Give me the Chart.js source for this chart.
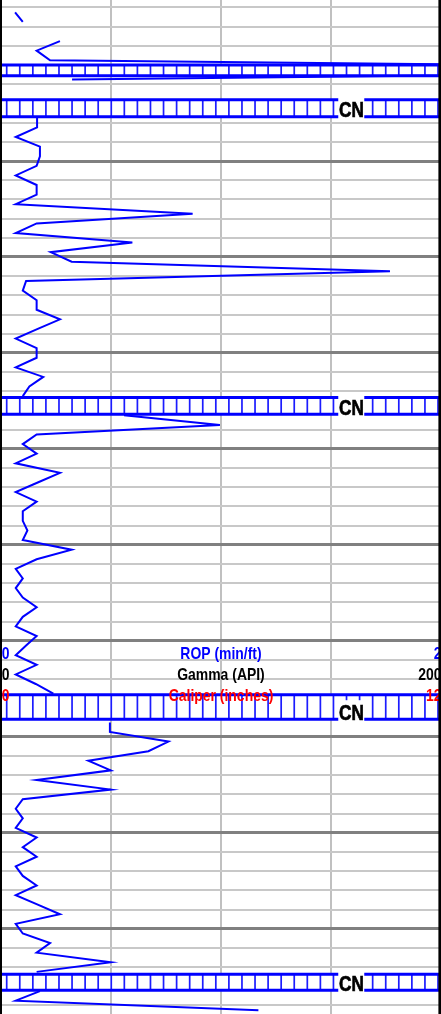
<!DOCTYPE html>
<html><head><meta charset="utf-8">
<script src="https://cdn.jsdelivr.net/npm/chart.js@4.4.0/dist/chart.umd.min.js"></script>
<style>html,body{margin:0;padding:0;background:#fff;overflow:hidden}canvas{display:block}</style>
</head><body>
<canvas id="c" width="441" height="1014"></canvas>
<script>
// Depth (ft) of each ROP sample
const depths = [
 4993.5,4994.5,4995.5,4996.5,4997.5,4998.5,4999.5,5000.5,5001.5,5002.5,
 5003.5,5004.5,5005.5,5006.5,5007.5,5008.5,5009.5,5010.5,5011.5,5012.5,
 5013.5,5014.5,5015.5,5016.5,5017.5,5018.5,5019.5,5020.5,5021.5,5022.5,
 5023.5,5024.5,5025.5,5026.5,5027.5,5028.5,5029.5,5030.5,5031.5,5032.5,
 5033.5,5034.5,5035.5,5036.5,5037.5,5038.5,5039.5,5040.5,5041.5,5042.5,
 5043.5,5044.5,5045.5,5046.5,5047.5,5048.5,5049.5,5050.5,5051.5,5052.5,
 5053.5,5054.5,5055.5,5056.5,5057.5,5058.5,5059.5,5060.5,5061.5,5062.5,
 5063.5,5064.5,5065.5,5066.5,5067.5,5068.5,5069.5,5070.5,5071.5,5072.5,
 5073.5,5074.5,5075.5,5076.5,5077.5,5078.5,5079.5,5080.5,5081.5,5082.5,
 5083.5,5084.5,5085.5,5086.5,5087.5,5088.5,5089.5,5090.5,5091.5,5092.5,
 5093.5,5094.5,5095.5,5096.5,5097.5,5098.5
];
// ROP (min/ft)
const ropValues = [
 null,0.064,0.099,null,0.268,0.162,0.223,4.5,0.323,null,
 null,null,0.164,0.164,0.067,0.177,0.177,0.162,0.067,0.162,
 0.162,0.067,0.871,0.162,0.067,0.597,0.226,0.321,1.768,0.114,
 0.099,0.162,0.162,0.268,0.167,0.067,0.162,0.162,0.067,0.192,
 0.129,0.099,null,0.559,0.995,0.162,0.099,0.162,0.067,0.268,
 0.167,0.067,0.162,0.099,0.099,0.120,0.099,0.321,0.162,0.067,
 0.099,0.067,0.099,0.162,0.099,0.067,0.162,0.114,0.067,0.162,
 0.067,0.158,0.238,null,null,0.495,0.495,0.761,0.670,0.397,
 0.499,0.162,0.499,0.099,0.067,0.099,0.067,0.162,0.099,0.162,
 0.067,0.099,0.162,0.067,0.167,0.268,0.067,0.099,0.223,0.162,
 0.499,0.162,null,0.177,0.067,1.17
];
// Connections (depth intervals)
const connTops    = [5000.0, 5003.62, 5034.64, 5065.62, 5094.74];
const connBottoms = [5001.12, 5005.39, 5036.38, 5068.17, 5096.41];
const connLabels  = ['', 'CN', 'CN', 'CN', 'CN'];
// Track header
const trackNames  = ['ROP (min/ft)', 'Gamma (API)', 'Caliper (inches)'];
const trackMins   = ['0', '0', '0'];
const trackMaxs   = ['2', '200', '12'];
const trackColors = ['#0000ff', '#000000', '#ff0000'];
const headerDepth = 5061.92;

const DEPTH_TOP = 4993.22, DEPTH_BOTTOM = 5098.89;

const decor = {
  id: 'decor',
  beforeDatasetsDraw(chart) {
    const ctx = chart.ctx, ys = chart.scales.y, xs = chart.scales.x;
    const {left, right} = chart.chartArea;
    ctx.save();
    for (let i = 0; i < connTops.length; i++) {
      const t = ys.getPixelForValue(connTops[i]);
      const b = ys.getPixelForValue(connBottoms[i]);
      ctx.fillStyle = '#ffffff';
      ctx.fillRect(left, t, right - left, b - t);
      ctx.strokeStyle = '#1c1cff';
      ctx.lineWidth = 1.7;
      ctx.beginPath();
      for (let x = left + 5.7; x < right; x += 13.07) {
        ctx.moveTo(x, t); ctx.lineTo(x, b);
      }
      ctx.stroke();
      ctx.strokeStyle = '#0000ff';
      ctx.lineWidth = 3;
      ctx.beginPath();
      ctx.moveTo(left, t); ctx.lineTo(right, t);
      ctx.moveTo(left, b); ctx.lineTo(right, b);
      ctx.stroke();
      if (connLabels[i]) {
        const bx = xs.getPixelForValue(1.533);
        const base = b + 0.5;
        ctx.fillStyle = '#ffffff';
        ctx.fillRect(bx, base - 19.5, 26, 24);
        ctx.save();
        ctx.translate(bx + 0.8, base);
        ctx.scale(0.78, 1);
        ctx.fillStyle = '#000000';
        ctx.strokeStyle = '#000000';
        ctx.lineWidth = 0.7;
        ctx.font = 'bold 22px "Liberation Sans", Arial, sans-serif';
        ctx.textAlign = 'left';
        ctx.textBaseline = 'alphabetic';
        ctx.fillText(connLabels[i], 0, 0);
        ctx.strokeText(connLabels[i], 0, 0);
        ctx.restore();
      }
    }
    ctx.restore();
  },
  afterDatasetsDraw(chart) {
    const ctx = chart.ctx, ys = chart.scales.y, xs = chart.scales.x;
    const {left, right} = chart.chartArea;
    const y0 = ys.getPixelForValue(headerDepth);
    const sx = 0.82;
    ctx.save();
    ctx.font = 'bold 17px "Liberation Sans", Arial, sans-serif';
    ctx.textBaseline = 'alphabetic';
    for (let i = 0; i < trackNames.length; i++) {
      const y = y0 + i * 20.7;
      ctx.fillStyle = trackColors[i];
      ctx.save(); ctx.translate(left + 0.8, y); ctx.scale(sx, 1);
      ctx.textAlign = 'left'; ctx.fillText(trackMins[i], 0, 0); ctx.restore();
      ctx.save(); ctx.translate(xs.getPixelForValue(1), y); ctx.scale(sx, 1);
      ctx.textAlign = 'center'; ctx.fillText(trackNames[i], 0, 0); ctx.restore();
      ctx.save(); ctx.translate(right + 0.5, y); ctx.scale(sx, 1);
      ctx.textAlign = 'right'; ctx.fillText(trackMaxs[i], 0, 0); ctx.restore();
    }
    ctx.restore();
  },
  afterDraw(chart) {
    const ctx = chart.ctx;
    const {top, bottom} = chart.chartArea;
    ctx.save();
    ctx.strokeStyle = '#000000';
    ctx.lineWidth = 2;
    ctx.beginPath(); ctx.moveTo(1, top); ctx.lineTo(1, bottom); ctx.stroke();
    ctx.lineWidth = 2.6;
    ctx.beginPath(); ctx.moveTo(439.7, top); ctx.lineTo(439.7, bottom); ctx.stroke();
    ctx.restore();
  }
};

new Chart(document.getElementById('c'), {
  type: 'line',
  data: {
    datasets: [{
      label: 'ROP',
      data: depths.map((d, i) => ({x: ropValues[i], y: d})),
      borderColor: '#0000ff',
      borderWidth: 2,
      pointRadius: 0,
      tension: 0,
      spanGaps: false,
      fill: false
    }]
  },
  options: {
    indexAxis: 'y',
    responsive: false,
    animation: false,
    devicePixelRatio: 1,
    layout: {padding: {left: 1, right: 0, top: 0, bottom: 0}},
    plugins: {legend: {display: false}, tooltip: {enabled: false}},
    scales: {
      x: {
        type: 'linear', position: 'bottom', min: 0, max: 2,
        ticks: {display: false, stepSize: 0.5},
        grid: {color: '#c0c0c0', lineWidth: 2, drawTicks: false},
        border: {display: false}
      },
      y: {
        type: 'linear', reverse: true, min: DEPTH_TOP, max: DEPTH_BOTTOM,
        ticks: {display: false, stepSize: 2, includeBounds: false},
        grid: {
          color: c => (c.tick && Math.round(c.tick.value) % 10 === 0) ? '#808080' : '#c8c8c8',
          lineWidth: c => (c.tick && Math.round(c.tick.value) % 10 === 0) ? 3 : 2,
          drawTicks: false
        },
        border: {display: false}
      }
    }
  },
  plugins: [decor]
});
</script>
</body></html>
